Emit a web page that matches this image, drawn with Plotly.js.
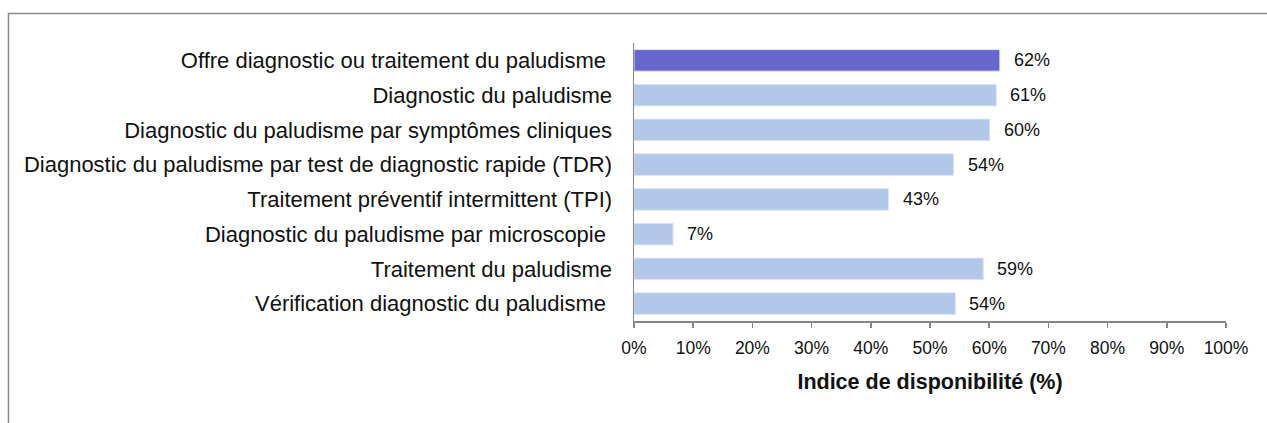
<!DOCTYPE html>
<html>
<head>
<meta charset="utf-8">
<script src="https://cdn.plot.ly/plotly-3.0.1.min.js"></script>
<style>
  html, body { margin: 0; padding: 0; background: #fff; }
  #chart { width: 1267px; height: 423px; }
</style>
</head>
<body>
<div id="chart"></div>
<script>
const categories = [
  "Offre diagnostic ou traitement du paludisme\u00a0",
  "Diagnostic du paludisme",
  "Diagnostic du paludisme par symptômes cliniques",
  "Diagnostic du paludisme par test de diagnostic rapide (TDR)",
  "Traitement préventif intermittent (TPI)",
  "Diagnostic du paludisme par microscopie\u00a0",
  "Traitement du paludisme",
  "Vérification diagnostic du paludisme\u00a0"
];
const values = [61.8, 61.2, 60.1, 54.0, 43.0, 6.6, 59.0, 54.3];
const valueLabels = ["62%", "61%", "60%", "54%", "43%", "7%", "59%", "54%"];
const xTickValues = [0, 10, 20, 30, 40, 50, 60, 70, 80, 90, 100];
const xTickLabels = ["0%", "10%", "20%", "30%", "40%", "50%", "60%", "70%", "80%", "90%", "100%"];
const highlightColor = "#6666cc";
const baseColor = "#b3c7e9";

const barColors = categories.map((c, i) => i === 0 ? highlightColor : baseColor);
const font = "'Liberation Sans', Arial, sans-serif";

const trace = {
  type: "bar",
  orientation: "h",
  x: values,
  y: categories,
  marker: { color: barColors, line: { color: "#dde6f4", width: 1 } },
  hoverinfo: "skip"
};

const annotations = categories.map((c, i) => ({
  x: values[i], y: c, xref: "x", yref: "y",
  text: valueLabels[i], showarrow: false,
  xanchor: "left", xshift: 12,
  font: { family: font, size: 18, color: "#111111" }
}));

const layout = {
  width: 1267, height: 423,
  margin: { l: 634, r: 41, t: 43, b: 102, pad: 0 },
  paper_bgcolor: "#ffffff",
  plot_bgcolor: "#ffffff",
  showlegend: false,
  bargap: 0.38,
  xaxis: {
    range: [0, 100],
    tickvals: xTickValues,
    ticktext: xTickLabels,
    ticks: "outside", ticklen: 5, tickwidth: 1.5, tickcolor: "#868686",
    showline: true, linecolor: "#868686", linewidth: 1.5,
    showgrid: false, zeroline: false,
    ticklabelstandoff: 5,
    tickfont: { family: font, size: 17.5, color: "#111111" },
    title: { text: "<b>Indice de disponibilité (%)</b>", font: { family: font, size: 21.5, color: "#111111" }, standoff: 17 },
    fixedrange: true
  },
  yaxis: {
    autorange: "reversed",
    showline: true, linecolor: "#868686", linewidth: 1.5,
    ticks: "", showgrid: false, zeroline: false,
    ticklabelstandoff: 16,
    tickfont: { family: font, size: 22, color: "#111111" },
    fixedrange: true
  },
  annotations: annotations,
  shapes: [{
    type: "rect", xref: "paper", yref: "paper",
    x0: -1.0566, x1: 1.08, y0: -0.4, y1: 1.106,
    line: { color: "#888888", width: 1.5 }, fillcolor: "rgba(0,0,0,0)", layer: "below"
  }]
};

Plotly.newPlot("chart", [trace], layout, { displayModeBar: false, staticPlot: true });
</script>
</body>
</html>
